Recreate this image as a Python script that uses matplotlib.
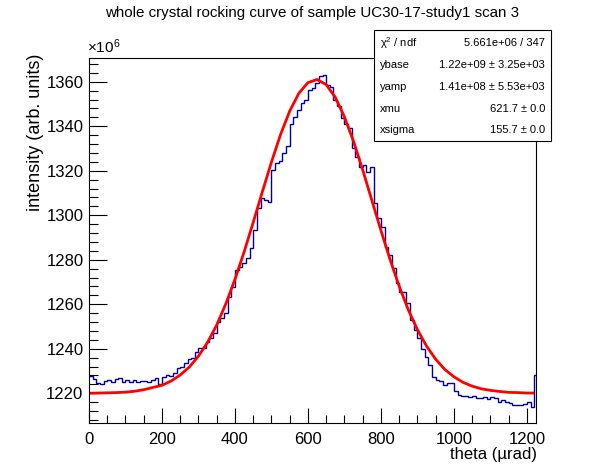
import matplotlib
matplotlib.use("Agg")
import matplotlib.pyplot as plt
import numpy as np
from matplotlib.ticker import MultipleLocator

plt.rcParams['font.family'] = ['Liberation Sans', 'DejaVu Sans']
plt.rcParams['mathtext.fontset'] = 'custom'
plt.rcParams['mathtext.rm'] = 'Liberation Sans'
plt.rcParams['mathtext.it'] = 'Liberation Sans:italic'

# histogram contents (units of 1e6), 10 urad bins, last bin 1220-1225
bin_edges = list(range(0, 1230, 10)) + [1225]
counts = [
    1227.8, 1226.5, 1224.5, 1224.2, 1225.5, 1226.0, 1225.0, 1226.5, 1226.8, 1225.2,
    1226.0, 1225.0, 1225.8, 1225.0, 1225.4, 1225.5, 1225.0, 1226.0, 1227.0, 1224.0,
    1227.5, 1228.0, 1227.6, 1229.0, 1231.5, 1231.8, 1233.5, 1235.5, 1236.0, 1238.5,
    1240.2, 1240.4, 1243.2, 1245.0, 1247.0, 1252.2, 1254.0, 1256.0, 1263.4, 1267.9,
    1275.4, 1276.9, 1278.5, 1280.6, 1285.1, 1293.4, 1303.1, 1307.6, 1307.0, 1306.0,
    1320.3, 1323.3, 1324.5, 1327.8, 1331.0, 1341.0, 1344.3, 1347.3, 1350.5, 1352.0,
    1356.3, 1357.0, 1359.3, 1362.5, 1363.0, 1358.5, 1357.5, 1352.0, 1349.0, 1343.5,
    1341.0, 1339.0, 1330.0, 1326.3, 1321.8, 1322.6, 1319.6, 1321.8, 1305.4, 1298.6,
    1294.8, 1285.9, 1282.1, 1276.2, 1269.4, 1265.6, 1265.6, 1260.4, 1252.9, 1248.4,
    1245.0, 1240.0, 1236.5, 1232.7, 1227.5, 1226.0, 1225.5, 1223.7, 1224.5, 1224.8,
    1221.0, 1219.2, 1218.6, 1218.9, 1218.3, 1218.8, 1217.8, 1218.0, 1218.5, 1217.5,
    1218.2, 1217.8, 1216.2, 1216.8, 1216.0, 1215.5, 1214.7, 1214.9, 1214.7, 1215.0,
    1216.2, 1214.0, 1228.2,
]

# fit curve
fit_x = [0, 25, 50, 75, 100, 125, 150, 175, 200, 225, 250, 275, 300, 325, 350, 375,
         400, 425, 450, 475, 500, 525, 550, 575, 600, 625, 650, 675, 700, 725, 750,
         775, 800, 825, 850, 875, 900, 925, 950, 975, 1000, 1025, 1050, 1075, 1100,
         1125, 1150, 1175, 1200, 1216]
fit_y = [1220.0, 1220.1, 1220.2, 1220.3, 1220.5, 1220.9, 1221.6, 1222.6, 1223.6,
         1225.5, 1228.2, 1231.8, 1236.7, 1242.9, 1250.7, 1260.2, 1271.2, 1283.5,
         1296.8, 1310.5, 1323.9, 1336.3, 1346.8, 1354.8, 1359.6, 1361.0, 1358.7,
         1353.0, 1344.2, 1333.2, 1320.4, 1306.8, 1293.2, 1280.1, 1268.1, 1257.5,
         1248.6, 1241.2, 1235.3, 1230.7, 1227.4, 1224.9, 1223.2, 1222.0, 1221.3,
         1220.8, 1220.4, 1220.3, 1220.1, 1220.1]

stat_names = ['χ$^{2}$ / ndf', 'ybase', 'yamp', 'xmu', 'xsigma']
stat_values = ['5.661e+06 / 347', '1.22e+09 ± 3.25e+03',
               '1.41e+08 ± 5.53e+03', '621.7 ± 0.0', '155.7 ± 0.0']

fig = plt.figure(figsize=(5.96, 4.72), dpi=100)
ax = fig.add_axes([89/596, 1-423.3/472, (536-89)/596, (423.3-57.7)/472])

ax.stairs(counts, bin_edges, baseline=None, color='#000099', linewidth=1.0)
ax.plot(fit_x, fit_y, color='#ff0000', linewidth=2.0)

ax.set_xlim(0, 1225)
ax.set_ylim(1206.5, 1370.8)
ax.xaxis.set_major_locator(MultipleLocator(200))
ax.xaxis.set_minor_locator(MultipleLocator(50))
ax.yaxis.set_major_locator(MultipleLocator(20))
ax.yaxis.set_minor_locator(MultipleLocator(4))
ax.tick_params(which='both', direction='in', top=False, right=False, labelsize=12)
ax.tick_params(axis='y', which='major', length=13, width=0.8, pad=4)
ax.tick_params(axis='y', which='minor', length=6.5, width=0.8)
ax.tick_params(axis='x', which='major', length=11, width=0.8, pad=6)
ax.tick_params(axis='x', which='minor', length=5.5, width=0.8)
for s in ax.spines.values():
    s.set_linewidth(0.8)

fig.text(537/596, 1-455/472, 'theta (µrad)', ha='right', va='center', fontsize=12)
fig.text(36/596, 1-54/472, 'intensity (arb. units)', rotation=90,
         ha='center', va='top', fontsize=13)
fig.text(87/596, 1-47/472, r'$\times10^{6}$', ha='left', va='center', fontsize=11)
fig.text(312/596, 1-13/472, 'whole crystal rocking curve of sample UC30-17-study1 scan 3',
         ha='center', va='center', fontsize=10.9)

# stats box
bx0, by0, bx1, by1 = 374, 30, 551, 141
rect = plt.Rectangle((bx0/596, 1-by1/472), (bx1-bx0)/596, (by1-by0)/472,
                     transform=fig.transFigure, facecolor='white',
                     edgecolor='black', linewidth=0.8, zorder=5)
fig.add_artist(rect)
row_y = [43, 65, 87, 109, 130]
for name, val, yy in zip(stat_names, stat_values, row_y):
    fig.text(380/596, 1-yy/472, name, ha='left', va='center', fontsize=8, zorder=6)
    fig.text(545/596, 1-yy/472, val, ha='right', va='center', fontsize=8, zorder=6)

fig.savefig('out.png', dpi=100)
